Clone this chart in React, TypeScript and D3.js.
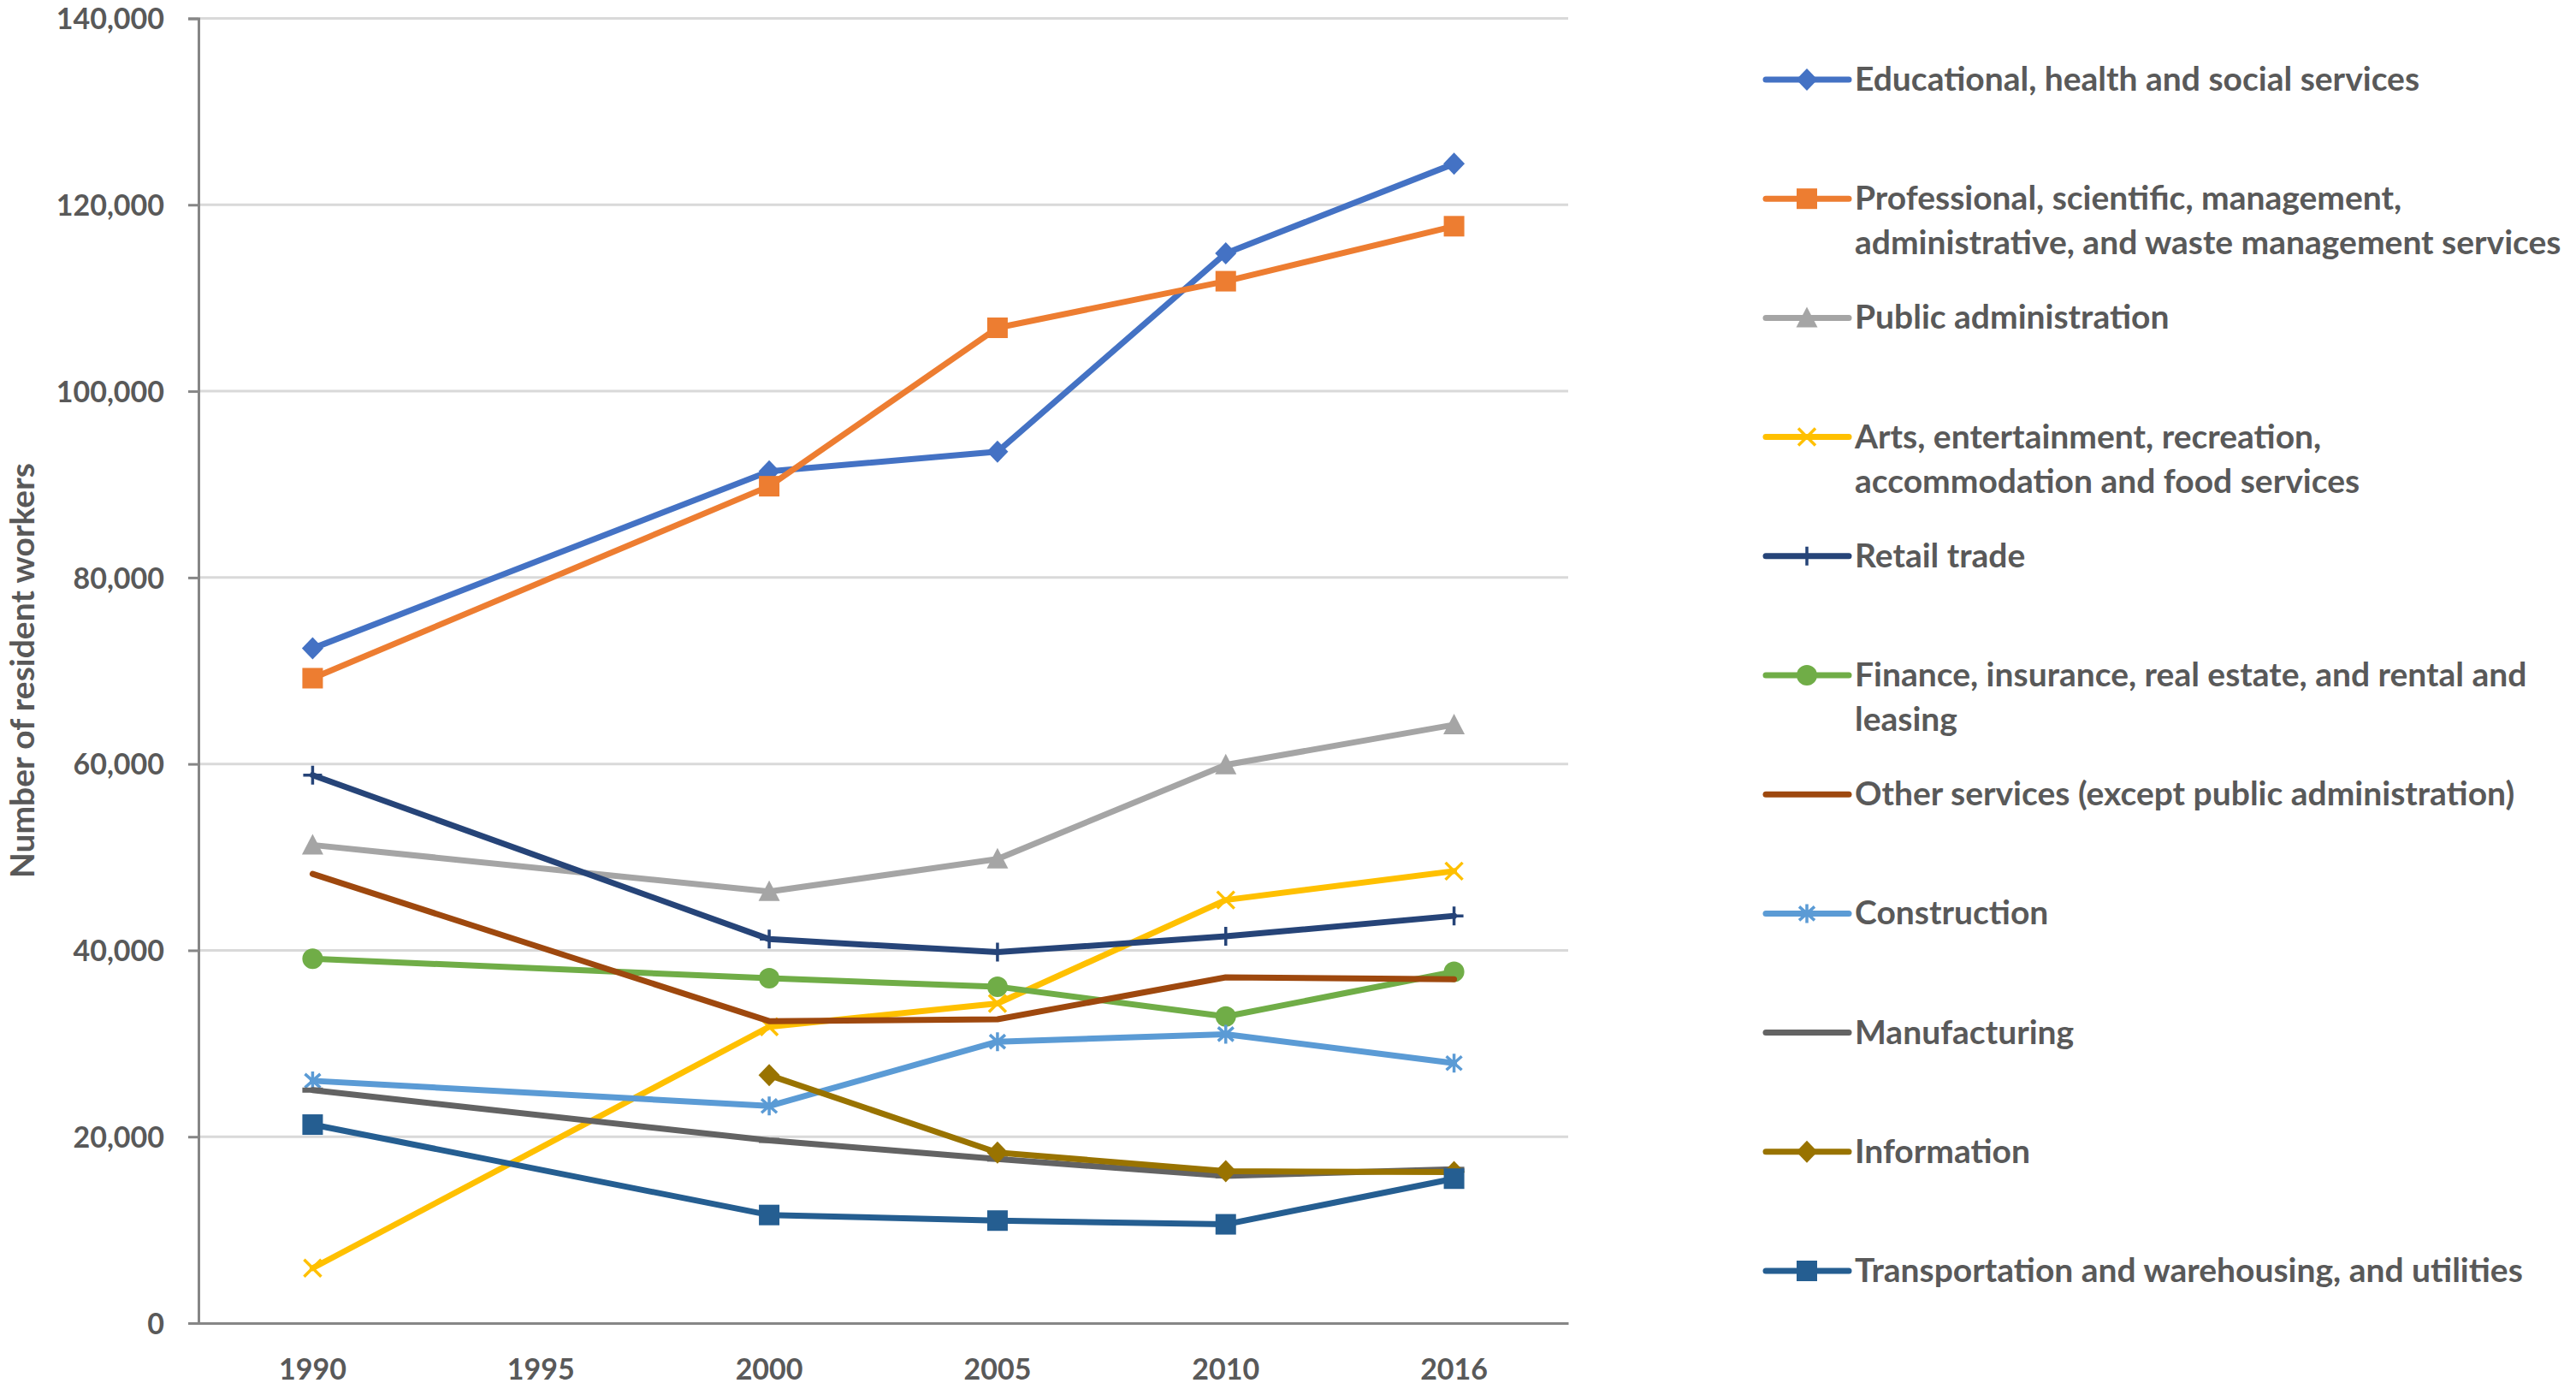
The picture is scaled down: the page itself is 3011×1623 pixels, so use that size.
import { useEffect, useRef } from 'react';
import * as d3 from 'd3';

const years = ['1990', '1995', '2000', '2005', '2010', '2016'];

const educational = [72400, null, 91400, 93500, 114800, 124400];
const professional = [69200, null, 89800, 106800, 111800, 117700];
const publicAdmin = [51300, null, 46300, 49800, 59900, 64200];
const arts = [5900, null, 31800, 34300, 45400, 48500];
const retail = [58800, null, 41200, 39800, 41500, 43700];
const finance = [39100, null, 37000, 36100, 32900, 37700];
const otherServices = [48200, null, 32400, 32600, 37100, 36900];
const construction = [26000, null, 23300, 30200, 31000, 27900];
const manufacturing = [25000, null, 19600, 17600, 15800, 16500];
const information = [null, null, 26600, 18300, 16300, 16200];
const transportation = [21300, null, 11600, 11000, 10600, 15500];

const yTicks = [0, 20000, 40000, 60000, 80000, 100000, 120000, 140000];

type Shape = 'diamond' | 'square' | 'triangle' | 'x' | 'plus' | 'circle' | 'star' | 'dash' | 'none';

interface Series {
  lines: string[];
  values: (number | null)[];
  color: string;
  shape: Shape;
}

const series: Series[] = [
  { lines: ['Educational, health and social services'], values: educational, color: '#4472C4', shape: 'diamond' },
  { lines: ['Professional, scientific, management,', 'administrative, and waste management services'], values: professional, color: '#ED7D31', shape: 'square' },
  { lines: ['Public administration'], values: publicAdmin, color: '#A5A5A5', shape: 'triangle' },
  { lines: ['Arts, entertainment, recreation,', 'accommodation and food services'], values: arts, color: '#FFC000', shape: 'x' },
  { lines: ['Retail trade'], values: retail, color: '#264478', shape: 'plus' },
  { lines: ['Finance, insurance, real estate, and rental and', 'leasing'], values: finance, color: '#70AD47', shape: 'circle' },
  { lines: ['Other services (except public administration)'], values: otherServices, color: '#9E480E', shape: 'none' },
  { lines: ['Construction'], values: construction, color: '#5B9BD5', shape: 'star' },
  { lines: ['Manufacturing'], values: manufacturing, color: '#636363', shape: 'dash' },
  { lines: ['Information'], values: information, color: '#997300', shape: 'diamond' },
  { lines: ['Transportation and warehousing, and utilities'], values: transportation, color: '#255E91', shape: 'square' },
];

const FONT = 'Lato, "Open Sans", sans-serif';
const TEXT = '#595959';

// draws one marker centred on (0,0) inside g
function drawMarker(g: d3.Selection<SVGGElement, unknown, null, undefined>, shape: Shape, color: string) {
  if (shape === 'diamond') {
    g.append('path').attr('d', 'M0,-13L12.5,0L0,13L-12.5,0Z').attr('fill', color);
  } else if (shape === 'square') {
    g.append('rect').attr('x', -12).attr('y', -12).attr('width', 24).attr('height', 24).attr('fill', color);
  } else if (shape === 'triangle') {
    g.append('path').attr('d', 'M0,-13L12.5,11L-12.5,11Z').attr('fill', color);
  } else if (shape === 'circle') {
    g.append('circle').attr('r', 12).attr('fill', color);
  } else if (shape === 'x') {
    g.append('path').attr('d', 'M-10,-10L10,10M10,-10L-10,10')
      .attr('stroke', color).attr('stroke-width', 3.5).attr('fill', 'none');
  } else if (shape === 'plus') {
    g.append('path').attr('d', 'M0,-11L0,11M-11,0L11,0')
      .attr('stroke', color).attr('stroke-width', 3.5).attr('fill', 'none');
  } else if (shape === 'star') {
    g.append('path').attr('d', 'M0,-11L0,11M-9,-8L9,8M9,-8L-9,8')
      .attr('stroke', color).attr('stroke-width', 3.5).attr('fill', 'none');
  } else if (shape === 'dash') {
    g.append('rect').attr('x', -12).attr('y', -3).attr('width', 24).attr('height', 6).attr('fill', color);
  }
}

const WIDTH = 3011;
const HEIGHT = 1623;

const Chart = () => {
  const svgRef = useRef<SVGSVGElement>(null);

  useEffect(() => {
    if (!svgRef.current) return;
    const svg = d3.select(svgRef.current);
    svg.selectAll('*').remove();

    const plot = { left: 232, right: 1833, top: 21.5, bottom: 1546 };

    const x = d3.scaleBand().domain(years).range([plot.left, plot.right]).padding(0);
    const cx = (yr: string) => (x(yr) || 0) + x.bandwidth() / 2;
    const y = d3.scaleLinear().domain([0, 140000]).range([plot.bottom, plot.top]);

    svg.append('rect').attr('width', WIDTH).attr('height', HEIGHT).attr('fill', '#fff');

    // gridlines
    svg.append('g')
      .selectAll('line')
      .data(yTicks.filter(t => t > 0))
      .join('line')
      .attr('x1', plot.left).attr('x2', plot.right)
      .attr('y1', d => y(d)).attr('y2', d => y(d))
      .attr('stroke', '#D9D9D9').attr('stroke-width', 3);

    // y axis
    const yAxis = svg.append('g')
      .attr('transform', `translate(${plot.left},0)`)
      .call(d3.axisLeft(y).tickValues(yTicks).tickSize(12).tickPadding(28).tickFormat(d3.format(',')));
    yAxis.select('.domain').attr('stroke', '#868686').attr('stroke-width', 3);
    yAxis.selectAll('.tick line').attr('stroke', '#868686').attr('stroke-width', 3);
    yAxis.selectAll('.tick text')
      .attr('font-family', FONT).attr('font-size', 34).attr('font-weight', 700)
      .attr('fill', TEXT).attr('dy', '0.36em');

    // x axis
    const xAxis = svg.append('g')
      .attr('transform', `translate(0,${plot.bottom})`)
      .call(d3.axisBottom(x).tickSize(0).tickPadding(42));
    xAxis.select('.domain').attr('stroke', '#868686').attr('stroke-width', 3);
    xAxis.selectAll('.tick text')
      .attr('font-family', FONT).attr('font-size', 34).attr('font-weight', 700)
      .attr('fill', TEXT).attr('dy', '0.72em');

    // y axis title
    svg.append('text')
      .attr('transform', `translate(40,${(plot.top + plot.bottom) / 2}) rotate(-90)`)
      .attr('text-anchor', 'middle')
      .attr('font-family', FONT).attr('font-size', 39).attr('font-weight', 700)
      .attr('fill', TEXT)
      .text('Number of resident workers');

    // series
    const line = d3.line<[string, number | null]>()
      .defined(d => d[1] !== null)
      .x(d => cx(d[0]))
      .y(d => y(d[1] as number));

    series.forEach(s => {
      const pts = years.map((yr, i) => [yr, s.values[i]] as [string, number | null])
        .filter(d => d[1] !== null);
      svg.append('path')
        .datum(pts)
        .attr('d', line)
        .attr('fill', 'none')
        .attr('stroke', s.color)
        .attr('stroke-width', 7)
        .attr('stroke-linejoin', 'round')
        .attr('stroke-linecap', 'round');
      pts.forEach(d => {
        const g = svg.append('g').attr('transform', `translate(${cx(d[0])},${y(d[1] as number)})`);
        drawMarker(g, s.shape, s.color);
      });
    });

    // legend
    const legendTop = 93;
    const legendStep = 139.2;
    series.forEach((s, i) => {
      const ly = legendTop + i * legendStep;
      const g = svg.append('g').attr('transform', `translate(0,${ly})`);
      g.append('line')
        .attr('x1', 2064).attr('x2', 2161).attr('y1', 0).attr('y2', 0)
        .attr('stroke', s.color).attr('stroke-width', 7).attr('stroke-linecap', 'round');
      const mg = g.append('g').attr('transform', 'translate(2112,0)');
      drawMarker(mg, s.shape, s.color);
      const t = g.append('text')
        .attr('x', 2168)
        .attr('y', 13)
        .attr('font-family', FONT).attr('font-size', 39).attr('font-weight', 700)
        .attr('fill', TEXT);
      s.lines.forEach((ln, j) => {
        t.append('tspan').attr('x', 2168).attr('dy', j === 0 ? 0 : 52).text(ln);
      });
    });
  }, []);

  return (
    <svg
      ref={svgRef}
      width={WIDTH}
      height={HEIGHT}
      style={{ position: 'absolute', left: 0, top: 0, display: 'block' }}
    />
  );
};

export default function App() {
  return <Chart />;
}
